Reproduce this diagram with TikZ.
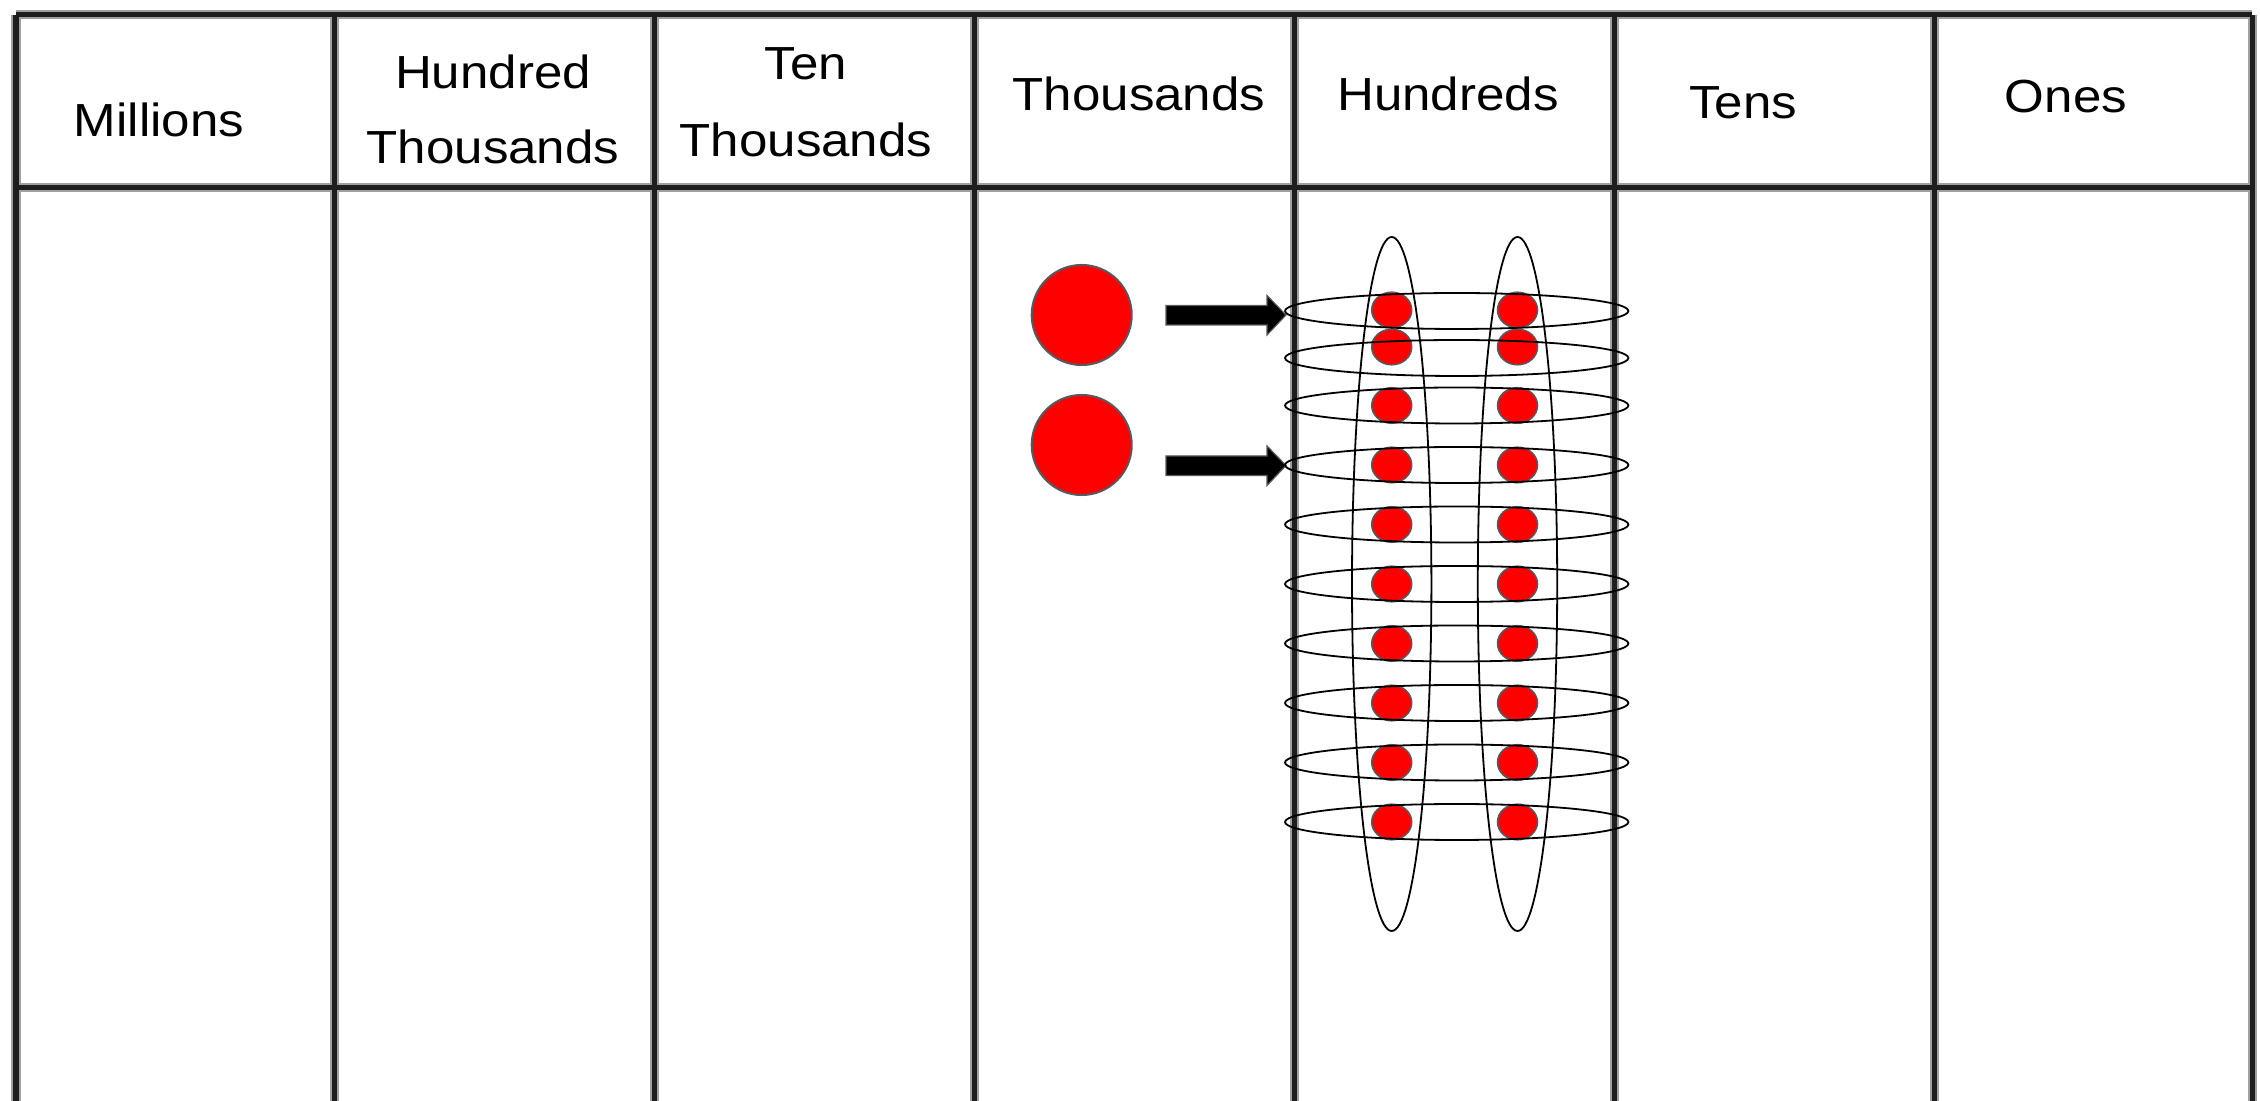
\documentclass[tikz,border=0pt]{standalone}
\usepackage{fontspec}
\setmainfont[FakeStretch=1.1]{Liberation Sans}
\usetikzlibrary{shapes.geometric}
\definecolor{gridcore}{RGB}{30,30,30}
\definecolor{gridhalo}{RGB}{160,160,160}
\definecolor{dotred}{RGB}{255,0,0}
\definecolor{dotedge}{RGB}{85,90,95}
\tikzset{
  halo/.style={draw=gridhalo, line width=0.09cm},
  core/.style={draw=gridcore, line width=0.05cm},
  hdr/.style={anchor=base, inner sep=0pt, font=\fontsize{13.2}{16}\selectfont},
  bigdot/.style={circle, minimum size=1cm, inner sep=0pt, fill=dotred, draw=dotedge, line width=0.02cm},
  smalldot/.style={ellipse, minimum width=0.4cm, minimum height=0.356cm, inner sep=0pt, fill=dotred, draw=dotedge, line width=0.015cm},
  ring/.style={draw=black, line width=0.018cm},
  fatarrow/.style={fill=black, draw=dotedge, line width=0.012cm}
}
\begin{document}
\begin{tikzpicture}[x=0.01cm,y=-0.01cm]
\useasboundingbox (0,0) rectangle (2260,1101);
\fill[white] (0,0) rectangle (2260,1101);
% grid
\foreach \s in {halo,core}{
  \foreach \x in {16,334,654,974,1294,1614,1934,2252}
    \draw[\s] (\x,15) -- (\x,1101);
  \draw[\s] (16,15) -- (2252,15);
  \draw[\s] (16,188) -- (2252,188);
}
% headers
\node[hdr] (mil) at (159,137) {Millions};
\node[hdr] (ht1) at (493,89) {Hundred};
\node[hdr] (ht2) at (493,164) {Thousands};
\node[hdr] (tt1) at (806,80) {Ten};
\node[hdr] (tt2) at (806,157) {Thousands};
\node[hdr] (th) at (1139,111) {Thousands};
\node[hdr] (hu) at (1448,111) {Hundreds};
\node[hdr] (te) at (1743,119) {Tens};
\node[hdr] (on) at (2066,113) {Ones};
% thousands counters
\node[bigdot] (b1) at (1081.7,315) {};
\node[bigdot] (b2) at (1081.7,445) {};
% arrows
\foreach \y/\n in {315/1,465.5/2}{
  \coordinate (as\n) at (1166,\y);
  \coordinate (at\n) at (1286,\y);
  \filldraw[fatarrow] (as\n) ++(0,-9.5) -- ++(101,0) -- ++(0,-10) -- (at\n)
     -- ++(-19,20) -- ++(0,-10) -- ++(-101,0) -- cycle;
}
% hundreds counters
\foreach \y [count=\i] in {310,347,405.5,465,524.5,584,643.5,703,762.5,822}{
  \node[smalldot] (l\i) at (1391.7,\y) {};
  \node[smalldot] (r\i) at (1517.5,\y) {};
}
% groupings
\foreach \y in {311,358,405.5,465,524.5,584,643.5,703,762.5,822}
  \draw[ring] (1456.7,\y) ellipse [x radius=171.7, y radius=18];
\draw[ring] (1391.7,584) ellipse [x radius=39.7, y radius=347];
\draw[ring] (1517.5,584) ellipse [x radius=39.7, y radius=347];
\end{tikzpicture}
\end{document}
